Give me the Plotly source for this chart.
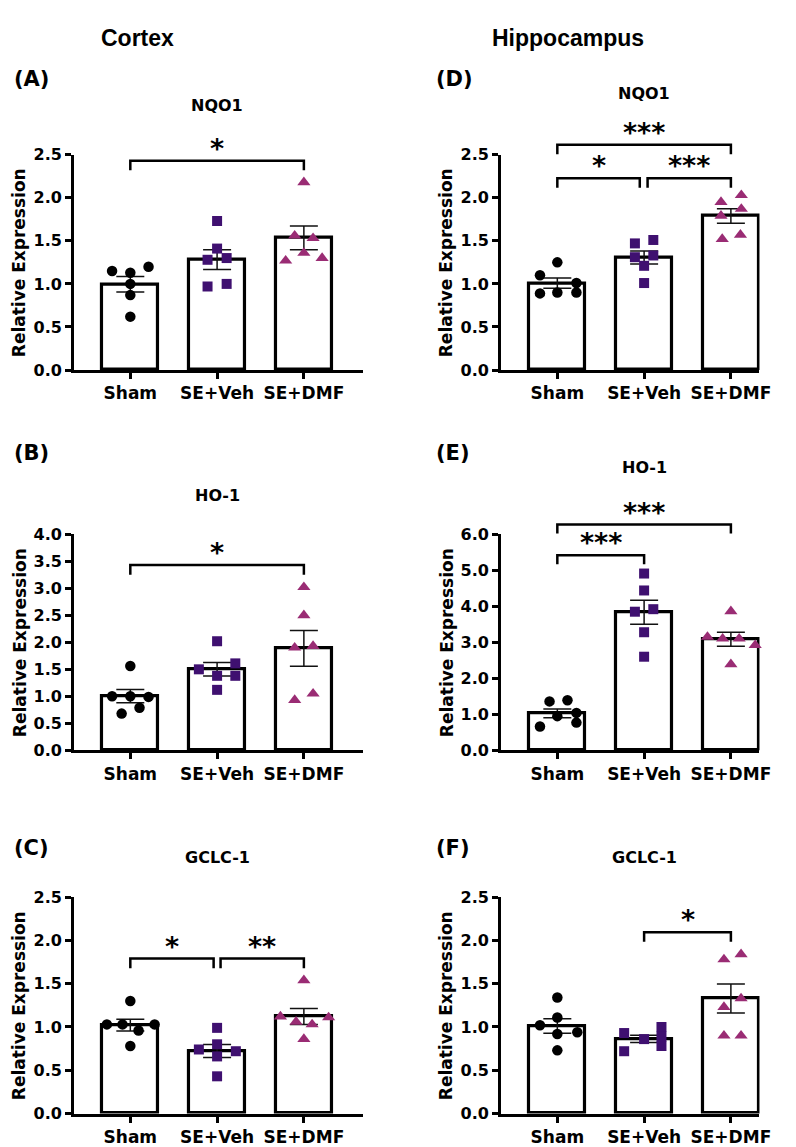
import numpy as np
import plotly.graph_objects as go

groups = ["Sham", "SE+Veh", "SE+DMF"]

# ---- data ----
A_sham = [1.15, 1.13, 1.20, 1.00, 0.87, 0.62]
A_veh = [1.73, 1.41, 1.28, 1.30, 0.97, 1.00]
A_dmf = [2.18, 1.56, 1.53, 1.36, 1.27, 1.30]

D_sham = [1.25, 1.10, 1.01, 0.89, 0.90, 0.90]
D_veh = [1.47, 1.51, 1.31, 1.33, 1.21, 1.01]
D_dmf = [2.03, 1.95, 1.87, 1.79, 1.52, 1.57]

B_sham = [1.56, 1.00, 1.00, 0.99, 0.68, 0.79]
B_veh = [2.02, 1.50, 1.61, 1.38, 1.38, 1.12]
B_dmf = [3.02, 2.50, 1.90, 1.93, 0.93, 1.05]

E_sham = [1.36, 1.39, 0.95, 1.04, 0.77, 0.66]
E_veh = [4.91, 4.44, 3.85, 3.92, 3.28, 2.60]
E_dmf = [3.86, 3.15, 3.10, 3.10, 2.92, 2.39]

C_sham = [1.30, 1.03, 1.03, 0.96, 1.03, 0.78]
C_veh = [0.99, 0.80, 0.74, 0.72, 0.66, 0.43]
C_dmf = [1.54, 1.12, 1.06, 1.03, 1.11, 0.86]

F_sham = [1.34, 1.11, 1.02, 0.92, 0.94, 0.73]
F_veh = [0.93, 0.86, 1.00, 0.89, 0.78, 0.72]
F_dmf = [1.78, 1.84, 1.23, 1.33, 0.90, 0.90]

# ---- horizontal scatter offsets of the dots (beeswarm layout, category units) ----
A_dx = [[-0.21, 0, 0.21, 0, 0, 0], [0, 0, -0.11, 0.11, -0.11, 0.11], [0, -0.106, 0.106, 0, -0.21, 0.21]]
D_dx = [[0, -0.2, 0.22, -0.2, 0, 0.22], [-0.106, 0.106, -0.106, 0.106, 0, 0], [0.12, -0.114, 0.12, -0.114, -0.1, 0.11]]
B_dx = [[0, -0.21, 0, 0.21, -0.1, 0.106], [0, -0.21, 0.21, 0, 0.21, 0], [0, 0, -0.106, 0.106, -0.106, 0.106]]
E_dx = [[-0.09, 0.117, 0, 0.22, 0.22, -0.2], [0, 0, -0.106, 0.106, 0, 0], [0, -0.27, -0.095, 0.095, 0.28, 0]]
C_dx = [[0, -0.27, -0.09, 0.095, 0.28, 0], [0, 0, -0.21, 0.216, 0, 0], [0, -0.27, -0.09, 0.095, 0.285, 0]]
F_dx = [[0, 0, -0.2, 0, 0.23, 0], [-0.23, 0, 0.2, 0.2, 0.2, -0.23], [-0.08, 0.117, -0.08, 0.117, -0.08, 0.117]]

# significance brackets: (x_start, x_end, bracket level, label)
A_sig = [(0, 2, 2.43, "*")]
D_sig = [(0, 2, 2.614, "***"), (0, 0.95, 2.226, "*"), (1.04, 2, 2.226, "***")]
B_sig = [(0, 2, 3.43, "*")]
E_sig = [(0, 2, 6.27, "***"), (0, 1, 5.42, "***")]
C_sig = [(0, 0.96, 1.79, "*"), (1.04, 2, 1.79, "**")]
F_sig = [(1, 2, 2.094, "*")]

# ---- layout geometry (pixels) ----
W, H = 796, 1147
COLS = {"L": (67, 360), "R": (500, 762)}
ROWS = [(140, 359), (526, 745.7), (895, 1115)]
PX_PER_CAT = 88.0
X0 = -0.648

FONT = "DejaVu Sans"
HEAD = "Liberation Sans, Arial, sans-serif"
COL_SHAM = "black"
COL_VEH = "#3f1070"
COL_DMF = "#9a2c74"

panels = [
    dict(label="(A)", title="NQO1", col="L", row=0, ty=90, ymax=2.5, dtick=0.5,
         data=[A_sham, A_veh, A_dmf], dx=A_dx, sig=A_sig),
    dict(label="(D)", title="NQO1", col="R", row=0, ty=78, ymax=2.5, dtick=0.5,
         data=[D_sham, D_veh, D_dmf], dx=D_dx, sig=D_sig),
    dict(label="(B)", title="HO-1", col="L", row=1, ty=487, ymax=4.0, dtick=0.5,
         data=[B_sham, B_veh, B_dmf], dx=B_dx, sig=B_sig),
    dict(label="(E)", title="HO-1", col="R", row=1, ty=458, ymax=6.0, dtick=1.0,
         data=[E_sham, E_veh, E_dmf], dx=E_dx, sig=E_sig),
    dict(label="(C)", title="GCLC-1", col="L", row=2, ty=855, ymax=2.5, dtick=0.5,
         data=[C_sham, C_veh, C_dmf], dx=C_dx, sig=C_sig),
    dict(label="(F)", title="GCLC-1", col="R", row=2, ty=855, ymax=2.5, dtick=0.5,
         data=[F_sham, F_veh, F_dmf], dx=F_dx, sig=F_sig),
]
label_y = [63, 443, 845]

fig = go.Figure()
layout = dict(width=W, height=H, margin=dict(l=0, r=0, t=0, b=0),
              paper_bgcolor="white", plot_bgcolor="white", showlegend=False,
              bargap=0)
shapes = []
annotations = []
symbols = ["circle", "square", "triangle-up"]
colors = [COL_SHAM, COL_VEH, COL_DMF]
sizes = [10.5, 10, 11.5]

for i, p in enumerate(panels):
    k = "" if i == 0 else str(i + 1)
    xa, ya = "x" + k, "y" + k
    c0, c1 = COLS[p["col"]]
    r0, r1 = ROWS[p["row"]]
    xr = [X0, X0 + (c1 - c0) / PX_PER_CAT]
    yr = [0, p["ymax"]]

    means = [float(np.mean(v)) for v in p["data"]]
    sems = [float(np.std(v, ddof=1) / np.sqrt(len(v))) for v in p["data"]]

    fig.add_trace(go.Bar(x=[0, 1, 2], y=means, width=0.65, xaxis=xa, yaxis=ya,
                         marker=dict(color="white", line=dict(color="black", width=3.2)),
                         error_y=dict(type="data", array=sems, visible=True, color="#111111",
                                      thickness=1.5, width=14)))
    for g in range(3):
        xs = [g + d for d in p["dx"][g]]
        fig.add_trace(go.Scatter(x=xs, y=p["data"][g], mode="markers", xaxis=xa, yaxis=ya,
                                 marker=dict(symbol=symbols[g], color=colors[g], size=sizes[g],
                                             line=dict(width=0)),
                                 cliponaxis=False))

    layout["xaxis" + k] = dict(domain=[c0 / W, c1 / W], anchor=ya, range=xr,
                               tickvals=[0, 1, 2], ticktext=groups, showline=True,
                               linecolor="black", linewidth=3, ticks="outside", ticklen=6,
                               tickwidth=2.5, tickcolor="black", showgrid=False, zeroline=False,
                               tickfont=dict(family=FONT, size=17, color="black", weight="bold"))
    layout["yaxis" + k] = dict(domain=[1 - r1 / H, 1 - r0 / H], anchor=xa, range=yr,
                               dtick=p["dtick"], tick0=0, tickformat=".1f", showline=True,
                               linecolor="black", linewidth=3, ticks="outside", ticklen=6,
                               tickwidth=2.5, tickcolor="black", showgrid=False, zeroline=False,
                               tickfont=dict(family=FONT, size=16, color="black", weight="bold"))

    def fx(x):
        return (x - xr[0]) / (xr[1] - xr[0])

    def fy(y):
        return (y - yr[0]) / (yr[1] - yr[0])

    if p["ymax"] == 4.0:
        drop = 0.18
    elif p["ymax"] == 6.0:
        drop = 0.25
    else:
        drop = 0.11
    for (xs0, xs1, lev, txt) in p["sig"]:
        path = "M {a},{b} L {a},{c} L {d},{c} L {d},{b}".format(
            a=fx(xs0), b=fy(lev - drop), c=fy(lev), d=fx(xs1))
        shapes.append(dict(type="path", xref=xa + " domain", yref=ya + " domain", path=path,
                           line=dict(color="black", width=2.5)))
        annotations.append(dict(xref=xa + " domain", yref=ya + " domain",
                                x=fx((xs0 + xs1) / 2), y=fy(lev), yshift=-5,
                                text=txt, showarrow=False, xanchor="center", yanchor="bottom",
                                font=dict(family=FONT, size=27, color="black", weight="bold")))

    # gene title
    annotations.append(dict(xref=xa + " domain", yref="paper", x=fx(1), y=1 - p["ty"] / H,
                            text=p["title"], showarrow=False, xanchor="center", yanchor="middle",
                            font=dict(family=FONT, size=16, color="black", weight="bold")))
    # panel label
    annotations.append(dict(xref="paper", yref="paper",
                            x=(4 if p["col"] == "L" else 432) / W, y=1 - label_y[p["row"]] / H,
                            text=p["label"], showarrow=False, xanchor="left", yanchor="middle",
                            font=dict(family=FONT, size=21, color="black", weight="bold")))
    # y axis title
    annotations.append(dict(xref="paper", yref="paper",
                            x=(12 if p["col"] == "L" else 445) / W, y=1 - (r0 + r1) / 2 / H,
                            text="Relative Expression", textangle=-90, showarrow=False,
                            xanchor="center", yanchor="middle",
                            font=dict(family=FONT, size=17, color="black", weight="bold")))

for txt, cx in [("Cortex", 131), ("Hippocampus", 568)]:
    annotations.append(dict(xref="paper", yref="paper", x=cx / W, y=1 - 21 / H, text=txt,
                            showarrow=False, xanchor="center", yanchor="middle",
                            font=dict(family=HEAD, size=23, color="black", weight="bold")))

layout["shapes"] = shapes
layout["annotations"] = annotations
fig.update_layout(**layout)
fig.write_html("out.html")
